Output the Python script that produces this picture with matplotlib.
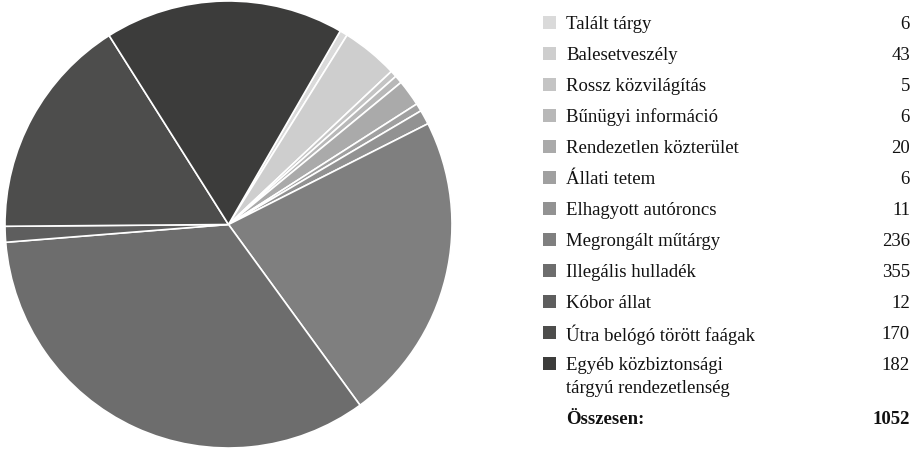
import matplotlib
matplotlib.use('agg')
import matplotlib.pyplot as plt

# Data
labels = ['Talált tárgy', 'Balesetveszély', 'Rossz közvilágítás',
          'Bűnügyi információ', 'Rendezetlen közterület', 'Állati tetem',
          'Elhagyott autóroncs', 'Megrongált műtárgy', 'Illegális hulladék',
          'Kóbor állat', 'Útra belógó törött faágak',
          'Egyéb közbiztonsági\ntárgyú rendezetlenség']
values = [6, 43, 5, 6, 20, 6, 11, 236, 355, 12, 170, 182]
colors = ['#dadada', '#cecece', '#c4c4c4', '#b8b8b8', '#aaaaaa', '#a0a0a0',
          '#929292', '#7f7f7f', '#6d6d6d', '#5e5e5e', '#4d4d4c', '#3c3c3b']
total_label = 'Összesen:'

plt.rcParams['font.family'] = ['Liberation Serif', 'DejaVu Serif']

W, H = 920, 450
fig = plt.figure(figsize=(W / 100, H / 100), dpi=100)

# Pie
ax = fig.add_axes([5 / W, 2 / H, 447 / W, 447 / H])
ax.pie(values, colors=colors, startangle=60, counterclock=False,
       wedgeprops={'edgecolor': 'white', 'linewidth': 1.2})
ax.set_xlim(-1.0, 1.0)
ax.set_ylim(-1.0, 1.0)
ax.set_aspect('equal')
ax.axis('off')

# Legend table (pixel positions)
def fx(px):
    return px / W

def fy(py):
    return 1 - py / H

fs = 13.5
row0, step, line_h = 22.5, 31, 23
for i, (lab, val, col) in enumerate(zip(labels, values, colors)):
    y = row0 + i * step
    fig.patches.append(plt.Rectangle((fx(543), fy(y + 6.5)), 13 / W, 13 / H,
                                     transform=fig.transFigure,
                                     facecolor=col, edgecolor='none'))
    for j, part in enumerate(lab.split('\n')):
        fig.text(fx(566), fy(y + j * line_h), part, fontsize=fs,
                 va='center_baseline', ha='left', color='#111111')
    fig.text(fx(910), fy(y), str(val), fontsize=fs, va='center_baseline',
             ha='right', color='#111111')

fig.text(fx(566), fy(418), total_label, fontsize=fs, va='center_baseline',
         ha='left', fontweight='bold', color='#111111')
fig.text(fx(910), fy(418), str(sum(values)), fontsize=fs,
         va='center_baseline', ha='right', fontweight='bold', color='#111111')

fig.savefig('out.png', dpi=100)
